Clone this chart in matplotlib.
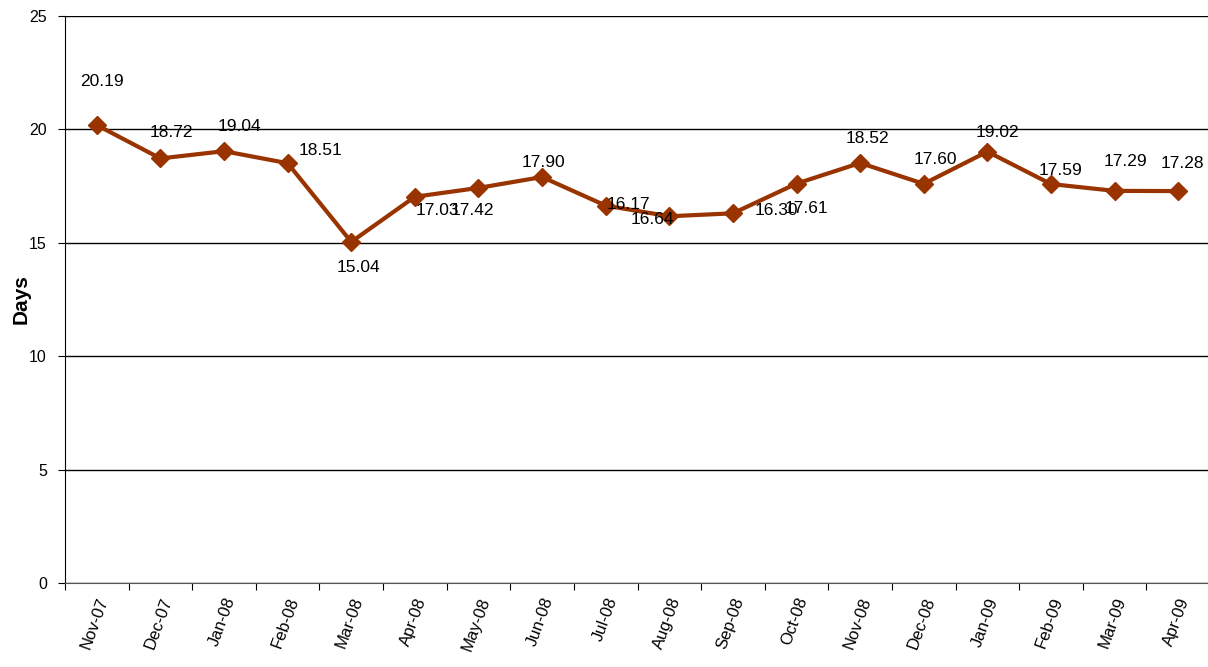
import matplotlib.pyplot as plt
import numpy as np

plt.rcParams['font.family'] = ['Liberation Sans', 'DejaVu Sans']

# data
months = ['Nov-07', 'Dec-07', 'Jan-08', 'Feb-08', 'Mar-08', 'Apr-08', 'May-08', 'Jun-08',
          'Jul-08', 'Aug-08', 'Sep-08', 'Oct-08', 'Nov-08', 'Dec-08', 'Jan-09', 'Feb-09',
          'Mar-09', 'Apr-09']
days = [20.19, 18.72, 19.04, 18.51, 15.04, 17.03, 17.42, 17.90,
        16.64, 16.17, 16.30, 17.61, 18.52, 17.60, 19.02, 17.59,
        17.29, 17.28]

# label offsets in pixels (dx, dy up), mimicking the spreadsheet placement
label_off = [(5, 44), (11, 26), (15, 25), (33, 13), (7, -26), (23, -14), (-6, -23), (1, 15),
             (47, -14), (-41, 12), (43, 3), (10, -25), (7, 24), (12, 24), (10, 19), (10, 14),
             (11, 29), (4, 28)]

fig = plt.figure(figsize=(12.08, 6.67), dpi=100)
ax = fig.add_axes([65 / 1208, 1 - 583 / 667, 1145 / 1208, 567 / 667])

x = np.arange(len(months))
ax.plot(x, days, color='#993300', lw=3, marker='D', markersize=9, zorder=3, clip_on=False)

for xi, v, (dx, dy) in zip(x, days, label_off):
    ax.annotate('%.2f' % v, (xi, v), xytext=(dx, dy), textcoords='offset pixels',
                ha='center', va='center', fontsize=12.5, color='black', zorder=4)

ax.set_xlim(-0.5, len(months) - 0.5)
ax.set_ylim(0, 25)
ax.set_yticks([0, 5, 10, 15, 20, 25])
ax.yaxis.grid(True, color='black', lw=1)
ax.set_axisbelow(True)

# category ticks between points, labels under points
ax.set_xticks(np.arange(len(months) + 1) - 0.5)
ax.set_xticklabels([])
ax.set_xticks(x, minor=True)
ax.set_xticklabels(months, minor=True, rotation=70, ha='right', va='top',
                   rotation_mode='anchor', fontsize=12)
ax.tick_params(axis='x', which='minor', length=0, pad=9)
ax.tick_params(axis='x', which='major', length=5, direction='out', color='black')
ax.tick_params(axis='y', length=5, direction='out', labelsize=11.5, pad=8)

ax.spines['right'].set_visible(False)
ax.spines['top'].set_visible(False)
ax.spines['bottom'].set_color('#555555')
ax.spines['left'].set_color('black')

ax.set_ylabel('Days', fontsize=15, fontweight='bold')
ax.yaxis.set_label_coords(-0.03, 0.5)

fig.savefig('out.png', dpi=100)
